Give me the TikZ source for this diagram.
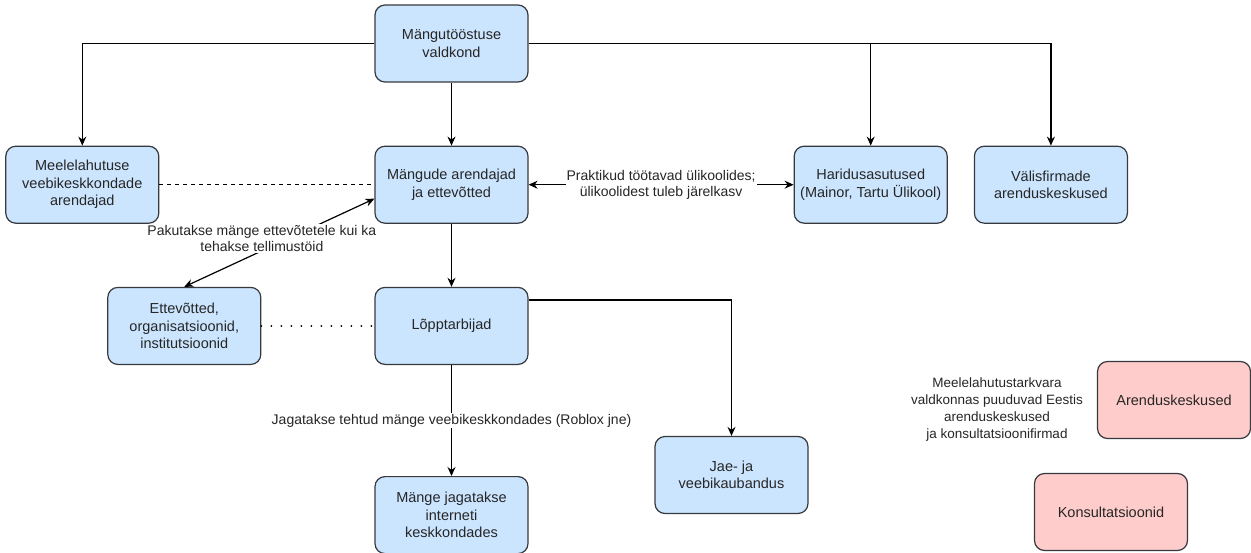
\documentclass[tikz,border=0pt]{standalone}
\usepackage{fontspec}
\setmainfont{Liberation Sans}
\usepackage{tikz}
\usetikzlibrary{arrows.meta,positioning}
\definecolor{boxblue}{HTML}{CCE5FF}
\definecolor{boxpink}{HTML}{FFCCCC}
\definecolor{boxline}{HTML}{36393D}
\tikzset{
  flowbox/.style={
    draw=boxline, line width=1.2pt, rounded corners=10pt,
    fill=boxblue, text=black!85,
    align=center, font=\fontsize{14.5}{17.5}\selectfont,
    minimum width=153pt, minimum height=77pt, inner sep=3pt},
  flowbox_missing/.style={
    flowbox, fill=boxpink},
  flowarrow/.style={
    -{Stealth[length=9pt,width=8pt]}, line width=1.2pt, color=black},
  flowarrow_both/.style={
    flowarrow, {Stealth[length=9pt,width=8pt]}-{Stealth[length=9pt,width=8pt]}},
  flowlink/.style={line width=1.2pt, color=black},
  flowlabel/.style={font=\fontsize{14}{16.5}\selectfont, text=black!85,
    align=center, fill=white, inner sep=1pt},
}

\begin{document}
\begin{tikzpicture}[x=1pt, y=-1pt, node distance=63pt]
  \useasboundingbox (0,0) rectangle (1251,552);
  % middle column
  \node[flowbox]                          (valdkond)  at (451.5,43.5) {Mängutööstuse\\valdkond};
  \node[flowbox, below=of valdkond]       (arendajad) {Mängude arendajad\\ja ettevõtted};
  \node[flowbox, below=of arendajad]      (tarbijad)  {Lõpptarbijad};
  \node[flowbox, below=111pt of tarbijad] (keskkond)  {Mänge jagatakse\\interneti\\keskkondades};
  % left side
  \node[flowbox, left=215pt of arendajad] (veebi)     {Meelelahutuse\\veebikeskkondade\\arendajad};
  \node[flowbox, left=113pt of tarbijad]  (asutused)  {Ettevõtted,\\organisatsioonid,\\institutsioonid};
  % right side
  \node[flowbox, right=265pt of arendajad] (haridus)  {Haridusasutused\\(Mainor, Tartu Ülikool)};
  \node[flowbox, right=26pt of haridus]    (valis)    {Välisfirmade\\arenduskeskused};
  \node[flowbox] (kaubandus) at (731.5,475) {Jae- ja\\veebikaubandus};
  % what is missing in Estonia
  \node[flowbox_missing] (arendus)   at (1174,400) {Arenduskeskused};
  \node[flowbox_missing] (konsult)   at (1111,512) {Konsultatsioonid};
  \node[flowlabel, fill=none, font=\fontsize{13.5}{17}\selectfont] (puudu) at (997,410)
    {Meelelahutustarkvara\\valdkonnas puuduvad Eestis\\arenduskeskused\\ja konsultatsioonifirmad};

  \draw[flowarrow] (valdkond.west) -| (veebi.north);
  \draw[flowarrow] (valdkond) -- (arendajad);
  \draw[flowarrow] (valdkond.east) -| (haridus.north);
  \draw[flowarrow] (haridus.north |- valdkond.east) -| (valis.north);
  \draw[flowlink, dash pattern=on 4pt off 4pt] (veebi) -- (arendajad);
  \draw[flowarrow_both] (arendajad) -- node[flowlabel] {Praktikud töötavad ülikoolides;\\ülikoolidest tuleb järelkasv} (haridus);
  \draw[flowarrow_both] ([yshift=-14pt]arendajad.west) -- node[flowlabel, pos=0.45, xshift=-27pt] {Pakutakse mänge ettevõtetele kui ka\\tehakse tellimustöid} (asutused.north);
  \draw[flowarrow] (arendajad) -- (tarbijad);
  \draw[flowlink, line width=2pt, line cap=round, dash pattern=on 0pt off 10pt] (asutused) -- (tarbijad);
  \draw[flowarrow] (tarbijad) -- node[flowlabel] {Jagatakse tehtud mänge veebikeskkondades (Roblox jne)} (keskkond);
  \draw[flowarrow] ([yshift=26pt]tarbijad.east) -| (kaubandus.north);
\end{tikzpicture}
\end{document}
